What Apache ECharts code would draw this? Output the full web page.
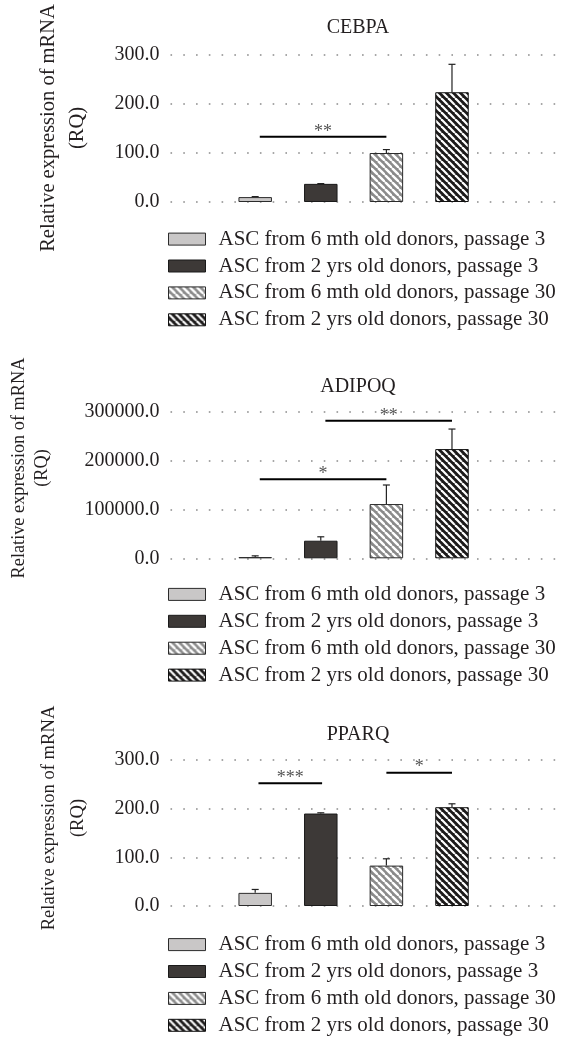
<!DOCTYPE html>
<html><head><meta charset="utf-8">
<script src="https://cdn.jsdelivr.net/npm/echarts@6/dist/echarts.min.js"></script>
<style>html,body{margin:0;padding:0;background:#fff}#c{width:575px;height:1038px}</style>
</head><body><div id="c"></div>
<script>
// ---------- data ----------
const seriesNames = [
  'ASC from 6 mth old donors, passage 3',
  'ASC from 2 yrs old donors, passage 3',
  'ASC from 6 mth old donors, passage 30',
  'ASC from 2 yrs old donors, passage 30'
];
const barPositions = [1, 2, 3, 4];
const panelTitles = ['CEBPA', 'ADIPOQ', 'PPARQ'];
const yAxisName = 'Relative expression of mRNA\n(RQ)';

const cebpaValues  = [10, 37, 100, 224];
const cebpaErrors  = [1, 0.5, 7, 57];
const adipoqValues = [2500, 36000, 111000, 223500];
const adipoqErrors = [2500, 8000, 39000, 41000];
const pparqValues  = [27, 190, 83, 203];
const pparqErrors  = [7, 1.5, 14, 7];

const yMaxima    = [300, 300000, 300];
const yIntervals = [100, 100000, 100];

const cebpaSig  = [[1.07, 3.0, 133, '**']];
const adipoqSig = [[1.07, 3.0, 161600, '*'], [2.07, 4.0, 281400, '**']];
const pparqSig  = [[1.05, 2.02, 252, '***'], [3.0, 4.0, 274, '*']];

const panelValues = [cebpaValues, adipoqValues, pparqValues];
const panelErrors = [cebpaErrors, adipoqErrors, pparqErrors];
const panelSigs   = [cebpaSig, adipoqSig, pparqSig];

// ---------- layout / style ----------
const FONT = '"Liberation Serif", "Times New Roman", serif';
const INK = '#231f20';
const gridTops = [55, 411.7, 760];
const gridHeights = [147, 146.6, 146];
const legendTops = [228.6, 583.9, 934.1];
const titleTops = [12.5, 371.5, 719.5];
const nameBoxes = [
  {x: 63.6, y: 128, size: 20.5, lh: 29},
  {x: 30.8, y: 468, size: 18.3, lh: 23.5},
  {x: 63.5, y: 818, size: 18.6, lh: 29}
];

function stripes(bg, fg, size, lw) {
  const c = document.createElement('canvas');
  c.width = c.height = size;
  const g = c.getContext('2d');
  g.fillStyle = bg; g.fillRect(0, 0, size, size);
  g.strokeStyle = fg; g.lineWidth = lw;
  for (const o of [-size, 0, size]) {
    g.beginPath(); g.moveTo(o, 0); g.lineTo(o + size, size); g.stroke();
  }
  return c;
}
const barStyles = [
  {color: '#c9c7c7', borderColor: '#2b2b2b', borderWidth: 1},
  {color: '#3d3937', borderColor: '#1a1a1a', borderWidth: 1},
  {color: {image: stripes('#8b8b8b', '#ffffff', 7, 2.4), repeat: 'repeat'}, borderColor: '#2b2b2b', borderWidth: 1},
  {color: {image: stripes('#1c1a1a', '#ffffff', 7, 2.2), repeat: 'repeat'}, borderColor: '#111', borderWidth: 1}
];

const grids = [], xAxes = [], yAxes = [], series = [], legends = [], titles = [], graphics = [];
for (let p = 0; p < 3; p++) {
  grids.push({left: 170.5, right: 19.5, top: gridTops[p], height: gridHeights[p]});
  xAxes.push({gridIndex: p, type: 'value', min: -0.291, max: 5.578,
    axisLine: {show: false}, axisTick: {show: false}, axisLabel: {show: false}, splitLine: {show: false}});
  yAxes.push({gridIndex: p, type: 'value', min: 0, max: yMaxima[p], interval: yIntervals[p],
    axisLine: {show: false}, axisTick: {show: false},
    axisLabel: {formatter: v => v.toFixed(1), fontFamily: FONT, fontSize: 20, color: INK, margin: 11},
    splitLine: {show: true, showMinLine: true, showMaxLine: true,
      lineStyle: {type: [1.6, 11.17], color: '#8a8a8a', width: 1.6}}});
  titles.push({text: panelTitles[p], left: 353, textAlign: 'center', top: titleTops[p],
    textStyle: {fontFamily: FONT, fontSize: 20, fontWeight: 'normal', color: INK}});
  for (let s = 0; s < 4; s++) {
    series.push({type: 'bar', name: seriesNames[s], xAxisIndex: p, yAxisIndex: p,
      barWidth: 33.5, barGap: '-100%', itemStyle: barStyles[s], z: 2,
      data: [[barPositions[s], panelValues[p][s]]]});
  }
  series.push({type: 'custom', xAxisIndex: p, yAxisIndex: p, z: 4, silent: true,
    encode: {x: 0, y: 1},
    data: barPositions.map((x, i) => [x, panelValues[p][i], panelErrors[p][i]]),
    renderItem: function (params, api) {
      const x = api.value(0), v = api.value(1), e = api.value(2);
      const a = api.coord([x, v]), b = api.coord([x, v + e]);
      return {type: 'group', children: [
        {type: 'line', shape: {x1: a[0], y1: a[1], x2: b[0], y2: b[1]}, style: {stroke: '#222', lineWidth: 1.2}},
        {type: 'line', shape: {x1: b[0] - 3.5, y1: b[1], x2: b[0] + 3.5, y2: b[1]}, style: {stroke: '#222', lineWidth: 1.2}}
      ]};
    }});
  const sigs = panelSigs[p];
  series.push({type: 'custom', xAxisIndex: p, yAxisIndex: p, z: 5, silent: true, clip: false,
    encode: {x: [0, 1], y: 2},
    data: sigs.map(d => [d[0], d[1], d[2]]),
    renderItem: function (params, api) {
      const d = sigs[params.dataIndex];
      const a = api.coord([d[0], d[2]]), b = api.coord([d[1], d[2]]);
      return {type: 'group', children: [
        {type: 'line', shape: {x1: a[0], y1: a[1], x2: b[0], y2: b[1]}, style: {stroke: '#000', lineWidth: 2}},
        {type: 'text', x: (a[0] + b[0]) / 2, y: a[1] - 5,
          style: {text: d[3], fill: '#555', fontFamily: FONT, fontSize: 18, align: 'center', verticalAlign: 'middle'}}
      ]};
    }});
  legends.push({orient: 'vertical', left: 168, top: legendTops[p], height: 120, padding: 0,
    itemWidth: 37, itemHeight: 12, itemGap: 5.9, icon: 'rect', selectedMode: false,
    textStyle: {fontFamily: FONT, fontSize: 21, color: INK, padding: [0, 0, 0, 8]},
    data: seriesNames.map((n, i) => ({name: n, itemStyle: {borderColor: barStyles[i].borderColor, borderWidth: 1}}))});
  const nb = nameBoxes[p];
  graphics.push({type: 'text', x: nb.x, y: nb.y, rotation: Math.PI / 2,
    style: {text: yAxisName, fontFamily: FONT, fontSize: nb.size, lineHeight: nb.lh, fill: INK,
      align: 'center', verticalAlign: 'middle'}});
}

const chart = echarts.init(document.getElementById('c'), null, {renderer: 'canvas'});
chart.setOption({
  animation: false,
  backgroundColor: '#fff',
  title: titles,
  grid: grids,
  xAxis: xAxes,
  yAxis: yAxes,
  legend: legends,
  graphic: graphics,
  series: series
});
</script>
</body></html>
